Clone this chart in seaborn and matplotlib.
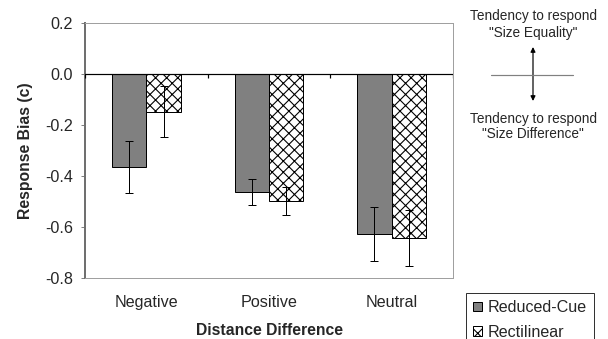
import numpy as np
import pandas as pd
import matplotlib
matplotlib.use("Agg")
import matplotlib.pyplot as plt
import seaborn as sns

categories = ["Negative", "Positive", "Neutral"]
conditions = ["Reduced-Cue", "Rectilinear"]
reduced_bias = [-0.364, -0.463, -0.627]
rect_bias = [-0.148, -0.497, -0.644]
reduced_err = [0.102, 0.052, 0.107]
rect_err = [0.100, 0.055, 0.110]
y_ticks = [0.2, 0.0, -0.2, -0.4, -0.6, -0.8]

# drawn at 200 dpi so the cross-hatch has the right density; 1 px = 0.36 pt
PX = 72 / 200

sns.set_style("white")
plt.rcParams["font.family"] = ["Liberation Sans", "DejaVu Sans"]
plt.rcParams["hatch.linewidth"] = 1.1 * PX
plt.rcParams["hatch.color"] = "black"

df = pd.DataFrame({
    "distance": categories * 2,
    "condition": [conditions[0]] * 3 + [conditions[1]] * 3,
    "bias": reduced_bias + rect_bias,
})
errs = {conditions[0]: reduced_err, conditions[1]: rect_err}

fig = plt.figure(figsize=(608 / 200, 339 / 200), dpi=200)
ax = fig.add_axes([85 / 608, 1 - 278 / 339, 368 / 608, 255 / 339])

sns.barplot(data=df, x="distance", y="bias", hue="condition", order=categories,
            hue_order=conditions, palette=["#808080", "white"], width=0.56,
            errorbar=None, edgecolor="black", linewidth=1.0 * PX, ax=ax,
            legend=False)

for cont, cond in zip(ax.containers, conditions):
    xs = [b.get_x() + b.get_width() / 2 for b in cont]
    ys = [b.get_height() for b in cont]
    if cond == "Rectilinear":
        for b in cont:
            b.set_hatch("xxxxxx")
    ax.errorbar(xs, ys, yerr=errs[cond], fmt="none", ecolor="black",
                elinewidth=1.0 * PX, capsize=4 * PX, capthick=1.0 * PX)

# zero line with small ticks at the category boundaries
ax.axhline(0, color="black", linewidth=1.2 * PX, zorder=3)
bounds = np.arange(len(categories) + 1) - 0.5
for b in bounds:
    ax.plot([b, b], [0, -0.016], color="black", linewidth=1.2 * PX, zorder=3,
            solid_capstyle="butt")

ax.set_xlim(-0.5, len(categories) - 0.5)
ax.set_ylim(-0.8, 0.2)
ax.set_yticks(y_ticks)
ax.set_yticklabels([f"{v:.1f}" for v in y_ticks])
ax.tick_params(axis="y", direction="out", length=4 * PX, width=1.0 * PX,
               color="#808080", pad=8 * PX, labelsize=5.8, left=True)
ax.tick_params(axis="x", length=0, pad=17 * PX, labelsize=5.8)

for side in ["top", "right", "bottom"]:
    ax.spines[side].set_color("#a0a0a0")
    ax.spines[side].set_linewidth(1.0 * PX)
ax.spines["left"].set_color("#707070")
ax.spines["left"].set_linewidth(2.0 * PX)

ax.set_ylabel("Response Bias (c)", fontsize=5.7, fontweight="bold")
ax.yaxis.set_label_coords(-0.142, 0.5)
ax.set_xlabel("Distance Difference", fontsize=5.7, fontweight="bold")
ax.xaxis.set_label_coords(0.5, -0.175)

# legend box at lower right, running off the bottom edge
handles = [ax.containers[0][0], ax.containers[1][0]]
leg = fig.legend(handles, conditions, loc="upper left",
                 bbox_to_anchor=(466 / 608, 1 - 293 / 339), fontsize=5.8,
                 frameon=True, fancybox=False, edgecolor="black",
                 handlelength=0.55, handleheight=0.55, handletextpad=0.35,
                 labelspacing=0.6, borderpad=0.45, borderaxespad=0)
leg.get_frame().set_linewidth(1.0 * PX)

# reading guide on the right
cx = 533 / 608
fy = lambda py: 1 - py / 339
for txt, py in [("Tendency to respond", 16), ('"Size Equality"', 33),
                ("Tendency to respond", 119), ('"Size Difference"', 134)]:
    fig.text(cx, fy(py), txt, ha="center", va="center", fontsize=4.9)
fig.add_artist(plt.Line2D([491 / 608, 573 / 608], [fy(74.5), fy(74.5)],
                          color="#808080", linewidth=1.2 * PX))
ax.annotate("", xy=(cx, fy(47)), xytext=(cx, fy(101)), xycoords="figure fraction",
            arrowprops=dict(arrowstyle="<|-|>", color="black", lw=1.2 * PX,
                            mutation_scale=3.5, shrinkA=0, shrinkB=0))

fig.savefig("out.png", dpi=200)
